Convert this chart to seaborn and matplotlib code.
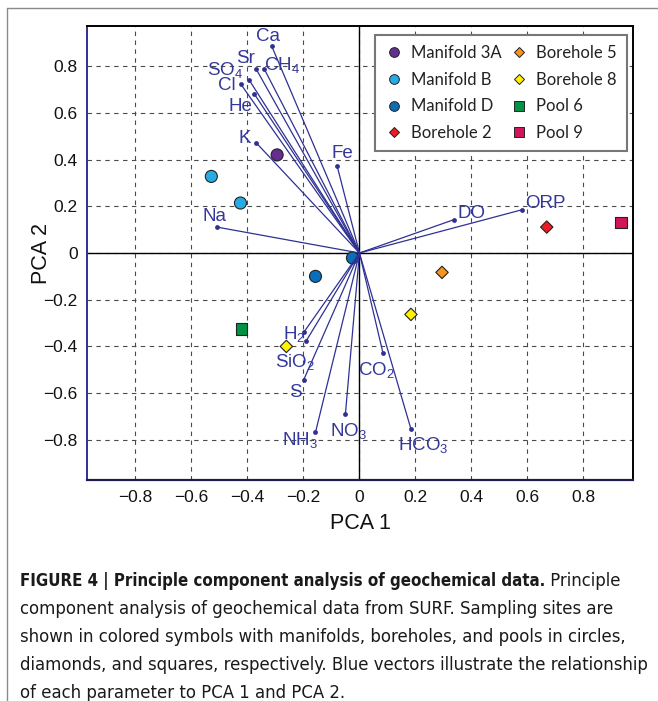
import numpy as np
import pandas as pd
import matplotlib
matplotlib.use("Agg")
import matplotlib.pyplot as plt
import seaborn as sns
from matplotlib.lines import Line2D

# ---------------- data ----------------
var_names = ["Ca", "Sr", "CH$_4$", "SO$_4$", "Cl", "He", "K", "Fe", "Na", "DO", "ORP",
             "H$_2$", "SiO$_2$", "S", "NH$_3$", "NO$_3$", "CO$_2$", "HCO$_3$"]
var_pc1 = [-0.313, -0.369, -0.340, -0.394, -0.423, -0.376, -0.368, -0.080, -0.509, 0.338, 0.580,
           -0.199, -0.190, -0.199, -0.157, -0.050, 0.084, 0.184]
var_pc2 = [0.885, 0.788, 0.788, 0.741, 0.722, 0.682, 0.471, 0.374, 0.111, 0.143, 0.185,
           -0.340, -0.376, -0.543, -0.768, -0.688, -0.428, -0.754]

site_names = ["Manifold 3A", "Manifold B", "Manifold B", "Manifold D", "Manifold D",
              "Borehole 2", "Borehole 5", "Borehole 8", "Borehole 8", "Pool 6", "Pool 9"]
site_pc1 = [-0.294, -0.529, -0.425, -0.025, -0.157, 0.669, 0.295, -0.261, 0.184, -0.421, 0.935]
site_pc2 = [0.420, 0.328, 0.214, -0.021, -0.100, 0.111, -0.083, -0.400, -0.263, -0.326, 0.131]

legend_order = ["Manifold 3A", "Manifold B", "Manifold D", "Borehole 2",
                "Borehole 5", "Borehole 8", "Pool 6", "Pool 9"]
tick_values = [-0.8, -0.6, -0.4, -0.2, 0.0, 0.2, 0.4, 0.6, 0.8]
tick_labels = ["\u22120.8", "\u22120.6", "\u22120.4", "\u22120.2", "0", "0.2", "0.4", "0.6", "0.8"]

caption_bold = "FIGURE 4 | Principle component analysis of geochemical data."
caption_lines = [
    " Principle",
    "component analysis of geochemical data from SURF. Sampling sites are",
    "shown in colored symbols with manifolds, boreholes, and pools in circles,",
    "diamonds, and squares, respectively. Blue vectors illustrate the relationship",
    "of each parameter to PCA 1 and PCA 2.",
]

# ---------------- styles ----------------
palette = {"Manifold 3A": "#662d91", "Manifold B": "#29abe2", "Manifold D": "#0a6fb8",
           "Borehole 2": "#ed1c24", "Borehole 5": "#f7931e", "Borehole 8": "#fff200",
           "Pool 6": "#009245", "Pool 9": "#d4145a"}
markers = {"Manifold 3A": "o", "Manifold B": "o", "Manifold D": "o",
           "Borehole 2": "D", "Borehole 5": "D", "Borehole 8": "D",
           "Pool 6": "s", "Pool 9": "s"}
marker_area = {"o": 75, "D": 40, "s": 68}
legend_ms = {"o": 7.0, "D": 5.2, "s": 6.6}
navy = "#2e3192"

# label offsets in points (text placement only)
label_offsets = {"Ca": (-2.8, 6.8), "Sr": (-7.7, 7.6), "CH$_4$": (12.7, 2.5),
                 "SO$_4$": (-17.3, 7.3), "Cl": (-9.9, -0.9), "He": (-9.7, -8.9),
                 "K": (-8.7, 3.3), "Fe": (3.8, 9.1), "Na": (-2.1, 7.9),
                 "DO": (12.4, 4.5), "ORP": (16.8, 4.5), "H$_2$": (-6.8, -1.1),
                 "SiO$_2$": (-7.9, -15.3), "S": (-5.7, -9.1), "NH$_3$": (-11.0, -5.8),
                 "NO$_3$": (2.2, -12.7), "CO$_2$": (-4.6, -12.5), "HCO$_3$": (8.9, -11.7)}

sns.set_theme(style="white")
plt.rcParams["font.family"] = ["Liberation Sans", "DejaVu Sans"]
plt.rcParams["mathtext.default"] = "regular"

fig = plt.figure(figsize=(6.58, 7.01), dpi=100)
W, H = 658, 701
ax = fig.add_axes([87.3 / W, 1 - 480 / H, (632.7 - 87.3) / W, (480 - 26) / H])

ax.set_xlim(-0.972, 0.976)
ax.set_ylim(-0.972, 0.972)
ax.set_xticks(tick_values)
ax.set_xticklabels(tick_labels)
ax.set_yticks(tick_values)
ax.set_yticklabels(tick_labels)
ax.grid(True, linestyle=(0, (4, 4)), color="#4a4a4a", linewidth=0.8)
ax.set_axisbelow(True)
ax.axhline(0, color="black", lw=1.0, zorder=1)
ax.axvline(0, color="black", lw=1.0, zorder=1)

# sample sites
sites = pd.DataFrame({"site": site_names, "PCA1": site_pc1, "PCA2": site_pc2})
sites["shape"] = sites["site"].map(markers)
for shp, sub in sites.groupby("shape"):
    sns.scatterplot(data=sub, x="PCA1", y="PCA2", hue="site", style="site",
                    palette={k: palette[k] for k in sub["site"].unique()},
                    markers={k: markers[k] for k in sub["site"].unique()},
                    s=marker_area[shp], edgecolor="#222222", linewidth=0.8,
                    legend=False, ax=ax, zorder=3)

# vectors
vecs = pd.DataFrame({"var": var_names, "PCA1": var_pc1, "PCA2": var_pc2})
for _, r in vecs.iterrows():
    ax.plot([0, r.PCA1], [0, r.PCA2], color=navy, lw=0.9, zorder=4)
sns.scatterplot(data=vecs, x="PCA1", y="PCA2", color=navy, s=12, linewidth=0,
                legend=False, ax=ax, zorder=5)
for _, r in vecs.iterrows():
    ax.annotate(r["var"], (r.PCA1, r.PCA2), xytext=label_offsets[r["var"]],
                textcoords="offset points", ha="center", va="center",
                color="#34389a", fontsize=13.5, zorder=6)

# spines and ticks
for side in ["top", "right"]:
    ax.spines[side].set_color("black")
    ax.spines[side].set_linewidth(1.4)
ax.spines["left"].set_color(navy)
ax.spines["left"].set_linewidth(1.4)
ax.spines["bottom"].set_color("#1c1c50")
ax.spines["bottom"].set_linewidth(1.6)
ax.tick_params(axis="both", direction="in", length=4, width=0.8, color=navy,
               labelsize=12.5, labelcolor="#111111", pad=7)
ax.set_xlabel("PCA 1", fontsize=15.5, labelpad=6, color="#111111")
ax.set_ylabel("PCA 2", fontsize=15.5, labelpad=-6, color="#111111")

# legend
handles = [Line2D([], [], marker=markers[k], linestyle="", markerfacecolor=palette[k],
                  markeredgecolor="#222222", markeredgewidth=0.7,
                  markersize=legend_ms[markers[k]], label=k) for k in legend_order]
leg = ax.legend(handles=handles, ncol=2, loc="upper right",
                bbox_to_anchor=(1 - 6 / 545.4, 1 - 9 / 454), borderaxespad=0,
                frameon=True, fancybox=False, framealpha=1, edgecolor="#777777",
                prop={"family": ["Lato", "DejaVu Sans"], "size": 12},
                handlelength=1.0, handletextpad=0.55, columnspacing=0.5,
                labelspacing=0.64, borderpad=0.6)
leg.get_frame().set_linewidth(1.5)
for t in leg.get_texts():
    t.set_color("#222222")

# outer page frame
fig.add_artist(Line2D([7 / W, 7 / W], [0, 1 - 8 / H], transform=fig.transFigure,
                      color="#8a8a8a", lw=1.0))
fig.add_artist(Line2D([7 / W, 1], [1 - 8 / H, 1 - 8 / H], transform=fig.transFigure,
                      color="#8a8a8a", lw=1.0))

# caption
cap_kw = dict(family=["DejaVu Sans"], fontstretch="condensed", fontsize=13.2,
              va="baseline", ha="left", color="#1a1a1a")
baselines = [586.5, 614.5, 642.5, 670.5, 697.5]
bold_kw = dict(cap_kw)
bold_kw["fontsize"] = 12.1
tb = fig.text(20 / W, 1 - baselines[0] / H, caption_bold, fontweight="bold", **bold_kw)
fig.canvas.draw()
bb = tb.get_window_extent()
x_after = bb.x1 / fig.bbox.width
fig.text(x_after, 1 - baselines[0] / H, caption_lines[0], **cap_kw)
for line, b in zip(caption_lines[1:], baselines[1:]):
    fig.text(20 / W, 1 - b / H, line, **cap_kw)

fig.savefig("out.png", dpi=100)
